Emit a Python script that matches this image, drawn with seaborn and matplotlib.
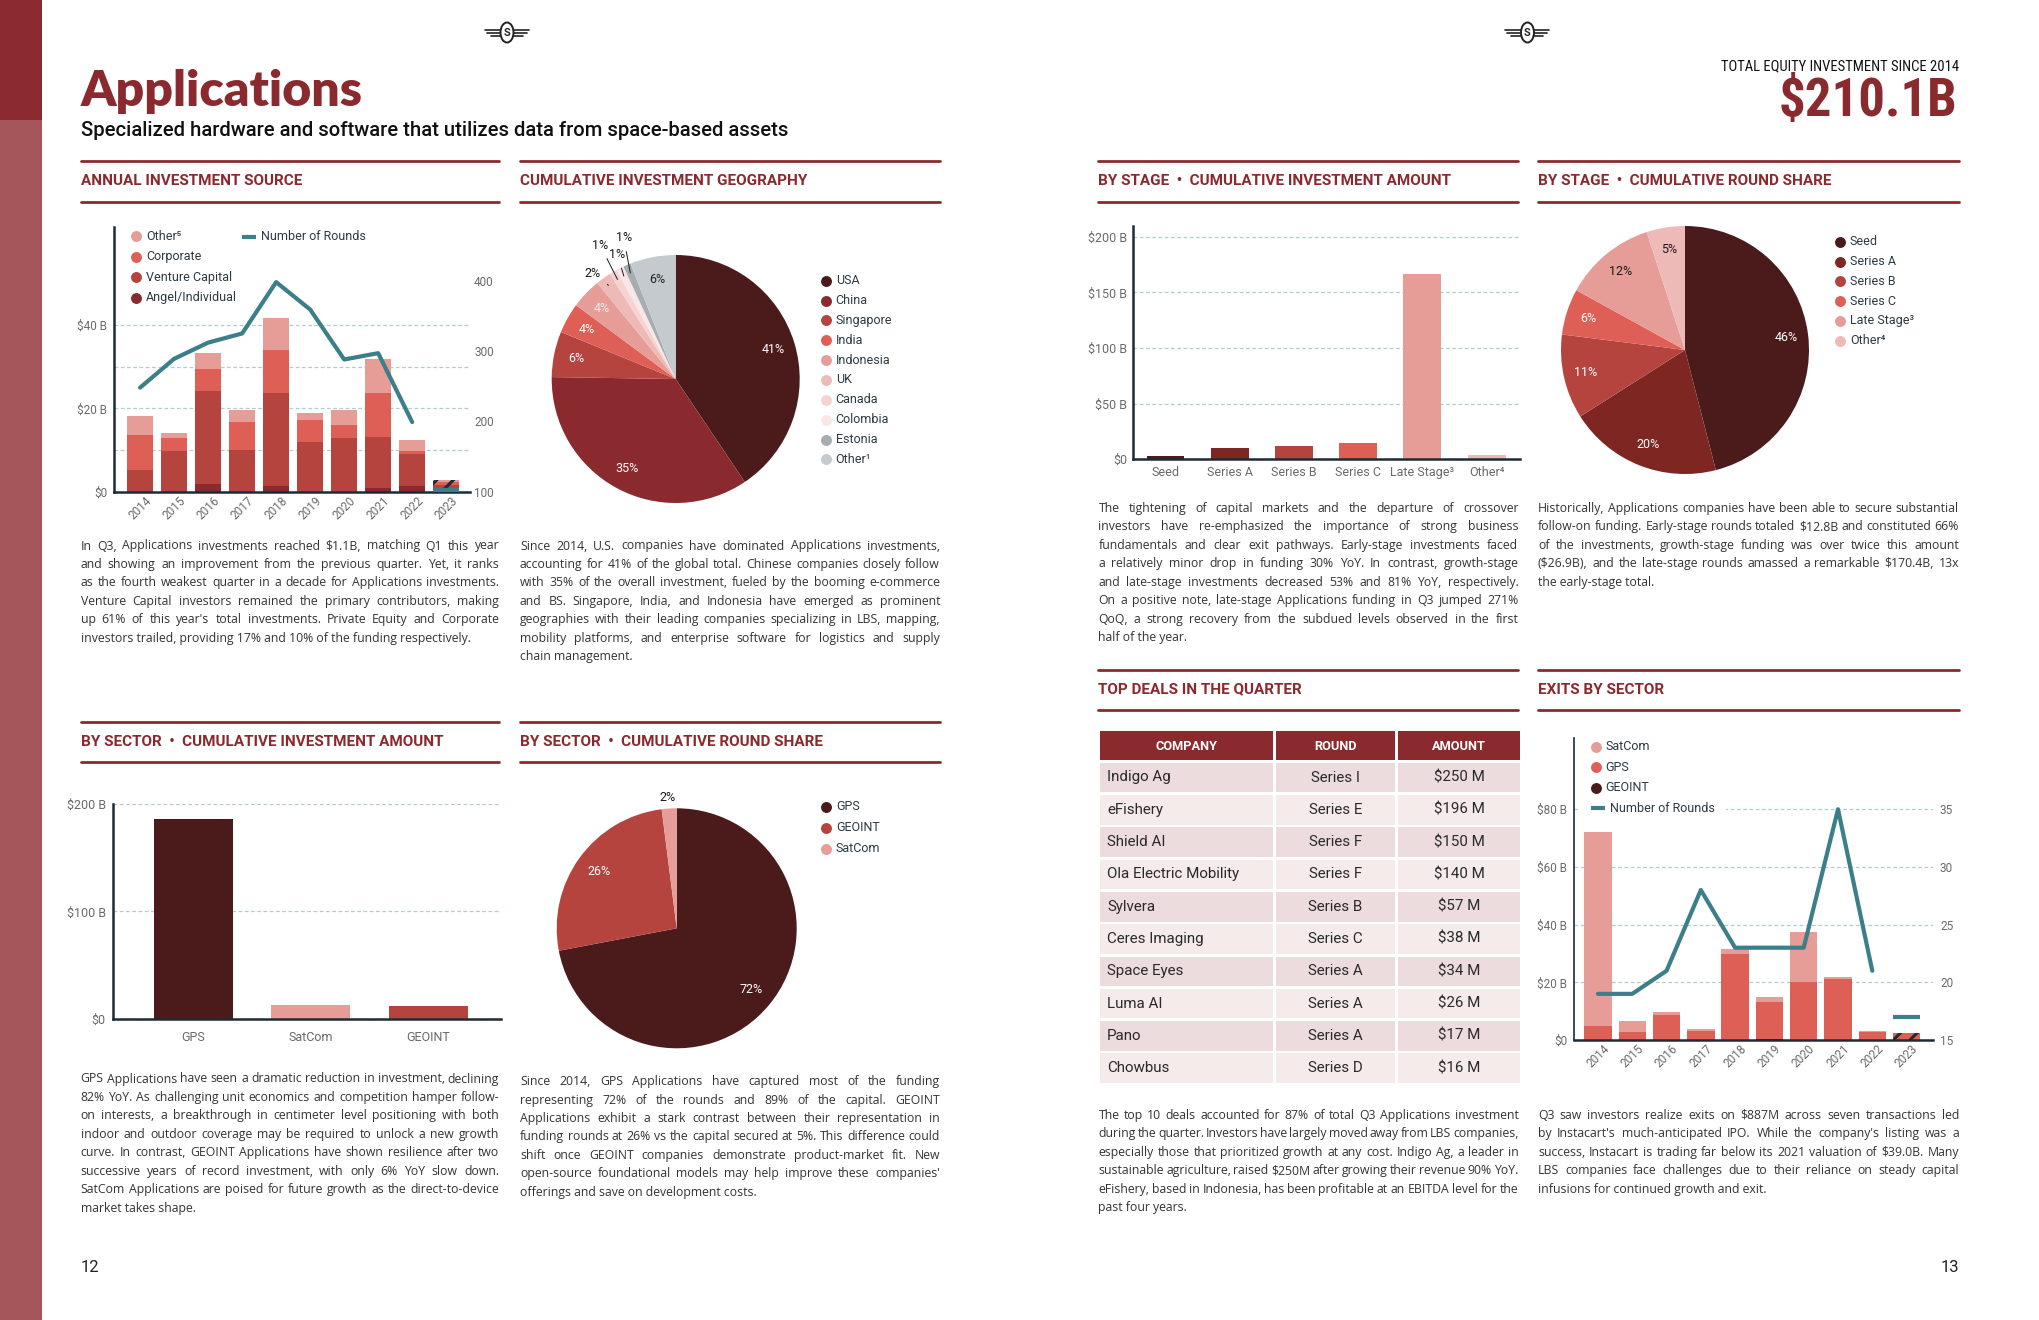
import matplotlib
matplotlib.use("Agg")
import numpy as np
import pandas as pd
import matplotlib.pyplot as plt
import seaborn as sns
from matplotlib import font_manager
from matplotlib.patches import Rectangle, Ellipse
from matplotlib.ticker import FuncFormatter

# ---------------- data ----------------
years = [str(y) for y in range(2014, 2024)]
angel = [0, 0, 1.8, 0, 1.4, 0, 0, 0.9, 1.4, 0.1]
venture = [5.2, 9.8, 22.4, 10.0, 22.3, 11.9, 12.9, 12.2, 7.7, 1.4]
corporate = [8.4, 3.2, 5.2, 6.7, 10.3, 5.3, 3.1, 10.6, 0.7, 0.8]
other_src = [4.6, 1.1, 3.9, 2.9, 7.7, 1.7, 3.6, 8.1, 2.6, 0.5]
rounds = [248, 289, 312, 325, 398, 359, 288, 297, 199]
rounds_2023 = 102

geo_labels = ["USA", "China", "Singapore", "India", "Indonesia", "UK",
              "Canada", "Colombia", "Estonia", "Other\u00b9"]
geo_share = [41, 35, 6, 4, 4, 2, 1, 1, 1, 6]

stage_labels = ["Seed", "Series A", "Series B", "Series C",
                "Late Stage\u00b3", "Other\u2074"]
stage_amount = [3.0, 10.2, 12.0, 14.7, 166.5, 3.9]
stage_share = [46, 20, 11, 6, 12, 5]

sector_labels = ["GPS", "SatCom", "GEOINT"]
sector_amount = [186.0, 12.7, 11.8]
sector_share_labels = ["GPS", "GEOINT", "SatCom"]
sector_share = [72, 26, 2]

deal_company = ["Indigo Ag", "eFishery", "Shield AI", "Ola Electric Mobility",
                "Sylvera", "Ceres Imaging", "Space Eyes", "Luma AI", "Pano",
                "Chowbus"]
deal_round = ["Series I", "Series E", "Series F", "Series F", "Series B",
              "Series C", "Series A", "Series A", "Series A", "Series D"]
deal_amount = ["$250 M", "$196 M", "$150 M", "$140 M", "$57 M", "$38 M",
               "$34 M", "$26 M", "$17 M", "$16 M"]

exit_geoint = [0, 0, 0, 0, 0, 0.5, 0, 0, 0, 0]
exit_gps = [4.9, 2.9, 8.8, 3.2, 29.9, 12.8, 20.2, 21.2, 2.8, 2.4]
exit_satcom = [67.2, 3.8, 1.0, 0.7, 1.7, 1.6, 17.3, 0.6, 0.2, 0]
exit_rounds = [19, 19, 21, 28, 23, 23, 23, 35, 21]
exit_rounds_2023 = 17

para_source = [
    "In Q3, Applications investments reached $1.1B, matching Q1 this year",
    "and showing an improvement from the previous quarter. Yet, it ranks",
    "as the fourth weakest quarter in a decade for Applications investments.",
    "Venture Capital investors remained the primary contributors, making",
    "up 61% of this year's total investments. Private Equity and Corporate",
    "investors trailed, providing 17% and 10% of the funding respectively.",
]
para_geo = [
    "Since 2014, U.S. companies have dominated Applications investments,",
    "accounting for 41% of the global total. Chinese companies closely follow",
    "with 35% of the overall investment, fueled by the booming e-commerce",
    "and BS. Singapore, India, and Indonesia have emerged as prominent",
    "geographies with their leading companies specializing in LBS, mapping,",
    "mobility platforms, and enterprise software for logistics and supply",
    "chain management.",
]
para_stage = [
    "The tightening of capital markets and the departure of crossover",
    "investors have re-emphasized the importance of strong business",
    "fundamentals and clear exit pathways. Early-stage investments faced",
    "a relatively minor drop in funding 30% YoY. In contrast, growth-stage",
    "and late-stage investments decreased 53% and 81% YoY, respectively.",
    "On a positive note, late-stage Applications funding in Q3 jumped 271%",
    "QoQ, a strong recovery from the subdued levels observed in the first",
    "half of the year.",
]
para_share = [
    "Historically, Applications companies have been able to secure substantial",
    "follow-on funding. Early-stage rounds totaled $12.8B and constituted 66%",
    "of the investments, growth-stage funding was over twice this amount",
    "($26.9B), and the late-stage rounds amassed a remarkable $170.4B, 13x",
    "the early-stage total.",
]
para_sector = [
    "GPS Applications have seen a dramatic reduction in investment, declining",
    "82% YoY. As challenging unit economics and competition hamper follow-",
    "on interests, a breakthrough in centimeter level positioning with both",
    "indoor and outdoor coverage may be required to unlock a new growth",
    "curve. In contrast, GEOINT Applications have shown resilience after two",
    "successive years of record investment, with only 6% YoY slow down.",
    "SatCom Applications are poised for future growth as the direct-to-device",
    "market takes shape.",
]
para_sector_share = [
    "Since 2014, GPS Applications have captured most of the funding",
    "representing 72% of the rounds and 89% of the capital. GEOINT",
    "Applications exhibit a stark contrast between their representation in",
    "funding rounds at 26% vs the capital secured at 5%. This difference could",
    "shift once GEOINT companies demonstrate product-market fit. New",
    "open-source foundational models may help improve these companies'",
    "offerings and save on development costs.",
]
para_deals = [
    "The top 10 deals accounted for 87% of total Q3 Applications investment",
    "during the quarter. Investors have largely moved away from LBS companies,",
    "especially those that prioritized growth at any cost.  Indigo Ag, a leader in",
    "sustainable agriculture, raised $250M after growing their revenue 90% YoY.",
    "eFishery, based in Indonesia, has been profitable at an EBITDA level for the",
    "past four years.",
]
para_exits = [
    "Q3 saw investors realize exits on $887M across seven transactions led",
    "by Instacart's much-anticipated IPO. While the company's listing was a",
    "success, Instacart is trading far below its 2021 valuation of $39.0B. Many",
    "LBS companies face challenges due to their reliance on steady capital",
    "infusions for continued growth and exit.",
]

# ---------------- style ----------------
avail = {f.name for f in font_manager.fontManager.ttflist}


def pick(*names):
    for n in names:
        if n in avail:
            return n
    return "DejaVu Sans"


SANS = pick("Roboto", "Lato", "DejaVu Sans")
NARROW = pick("Liberation Sans Narrow", "Roboto Condensed", "Roboto")
BODY = pick("Open Sans", "Lato", "Noto Sans")
TITLE = pick("Lato", "Roboto")

sns.set_theme(style="white")
plt.rcParams["font.family"] = [SANS, "DejaVu Sans"]
plt.rcParams["hatch.linewidth"] = 2.2

RED = "#8b2a2e"
DARK = "#4b1b1c"
SER_A = "#7d2622"
RED2 = "#b5443f"
RED3 = "#dd5f56"
PINK1 = "#e69d97"
PINK2 = "#edbab7"
PINK3 = "#f4d3d1"
PINK4 = "#f9e7e6"
GREY1 = "#a5adb1"
GREY2 = "#c4cacd"
TEAL = "#3c7f89"
NAVY = "#1d2b36"
GRID = "#b3ccd1"
TICK = "#6a6a6a"
LEG = "#2c3a44"
HATCH = "#1d2b36"

W, H = 2040, 1320
fig = plt.figure(figsize=(W / 100, H / 100), dpi=100)
fig.patch.set_facecolor("white")


def box(l, t, r, b):
    return [l / W, 1 - b / H, (r - l) / W, (b - t) / H]


def money(v, pos):
    if v == 0:
        return "$0"
    return f"${v:.0f} B"


def base_style(ax, ysize=8.5):
    for s in ["top", "right"]:
        ax.spines[s].set_visible(False)
    for s in ["left", "bottom"]:
        ax.spines[s].set_color(NAVY)
        ax.spines[s].set_linewidth(1.8)
    ax.set_axisbelow(True)
    ax.grid(axis="y", color=GRID, lw=0.9, ls=(0, (3, 2)))
    ax.grid(axis="x", visible=False)
    ax.tick_params(axis="both", length=0, colors=TICK, labelsize=ysize)
    ax.set_xlabel("")
    ax.set_ylabel("")
    ax.set_facecolor("none")


# overlay in pixel coordinates for page furniture
ov = fig.add_axes([0, 0, 1, 1], zorder=10)
ov.set_xlim(0, W)
ov.set_ylim(H, 0)
ov.axis("off")
renderer = fig.canvas.get_renderer()

# ---------------- 1. annual investment source ----------------
ax = fig.add_axes(box(114.3, 226.7, 470, 491.7))
src = pd.DataFrame({"year": years, "Angel/Individual": angel,
                    "Venture Capital": venture, "Corporate": corporate,
                    "Other": other_src})
layers = ["Angel/Individual", "Venture Capital", "Corporate", "Other"]
layer_cols = [RED, RED2, RED3, PINK1]
cum = src[layers].cumsum(axis=1)
for name, col in reversed(list(zip(layers, layer_cols))):
    n0 = len(ax.patches)
    sns.barplot(x=src["year"], y=cum[name], color=col, width=0.78,
                saturation=1, linewidth=0, ax=ax)
    p = ax.patches[n0:][-1]
    p.set_hatch("//")
    p.set_edgecolor(HATCH)
base_style(ax, 8.5)
ax.set_ylim(0, 63.6)
ax.set_xlim(-0.76, 9.7)
ax.set_yticks([0, 10, 20, 30, 40])
ax.yaxis.set_major_formatter(FuncFormatter(lambda v, p: "" if v in (10, 30) else money(v, p)))
ax.tick_params(axis="y", pad=5)
ax.set_xticks(range(len(years)))
ax.set_xticklabels(years, rotation=45, ha="center")
ax.tick_params(axis="x", pad=2)
ax2 = ax.twinx()
sns.lineplot(x=np.arange(len(rounds)), y=rounds, color=TEAL, lw=3, ax=ax2)
ax2.hlines(rounds_2023, 9 - 0.39, 9 + 0.39, color=TEAL, lw=3)
ax2.set_ylim(100, 476.8)
ax2.set_yticks([100, 200, 300, 400])
ax2.tick_params(axis="y", length=0, pad=3, colors=TICK, labelsize=8.5)
ax2.grid(False)
for s in ax2.spines.values():
    s.set_visible(False)
ax2.set_ylabel("")

# ---------------- helpers: pies / legends ----------------


def pie(cx, cy, r, values, colors, txt_colors, inside, dist=0.82):
    pa = fig.add_axes(box(cx - r, cy - r, cx + r, cy + r))
    wedges, _ = pa.pie(values, colors=colors, startangle=90, counterclock=False,
                       wedgeprops=dict(linewidth=0))
    pa.set_xlim(-1, 1)
    pa.set_ylim(-1, 1)
    pa.set_aspect("equal")
    pa.axis("off")
    for w, v, tc, show in zip(wedges, values, txt_colors, inside):
        if not show:
            continue
        a = np.deg2rad((w.theta1 + w.theta2) / 2)
        pa.text(dist * np.cos(a), dist * np.sin(a), f"{v:.0f}%", ha="center",
                va="center", color=tc, fontsize=9)
    return pa, wedges


def dot(x, y, label, color, size=9):
    ov.scatter([x], [y], s=62, color=color, lw=0, zorder=12)
    ov.text(x + 10, y, label, ha="left", va="center", fontsize=size, color=LEG, zorder=12)


def dash(x, y, label):
    ov.plot([x - 7, x + 7], [y, y], color=TEAL, lw=3, zorder=12, solid_capstyle="butt")
    ov.text(x + 12, y, label, ha="left", va="center", fontsize=9, color=LEG, zorder=12)


for i, (lab, col) in enumerate(zip(["Other\u2075", "Corporate", "Venture Capital",
                                     "Angel/Individual"], [PINK1, RED3, RED2, RED])):
    dot(136, 236 + 20.5 * i, lab, col)
dash(249, 237, "Number of Rounds")

# ---------------- 2. geography pie ----------------
geo_cols = [DARK, RED, RED2, RED3, PINK1, PINK2, PINK3, PINK4, GREY1, GREY2]
geo_txt = ["white", "white", "white", "white", "#f6e9e8", "k", "k", "k", "k", "#222"]
geo_in = [True, True, True, True, True, False, False, False, False, True]
pa, wedges = pie(675.7, 379, 124, geo_share, geo_cols, geo_txt, geo_in)
outer_pos = {5: (-0.67, 0.85), 6: (-0.61, 1.08), 7: (-0.47, 1.005), 8: (-0.42, 1.14)}
for k, pos in outer_pos.items():
    w = wedges[k]
    a = np.deg2rad((w.theta1 + w.theta2) / 2)
    pa.annotate(f"{geo_share[k]:.0f}%", xy=(0.93 * np.cos(a), 0.93 * np.sin(a)),
                xytext=pos, ha="center", va="center", fontsize=9, color="k",
                arrowprops=dict(arrowstyle="-", lw=0.7, color="k", shrinkA=3, shrinkB=0))
for i, (lab, col) in enumerate(zip(geo_labels, geo_cols)):
    dot(825.7, 280.7 + 19.85 * i, lab, col)

# ---------------- 3. stage amount bars ----------------
stage_cols = [DARK, SER_A, RED2, RED3, PINK1, PINK2]
ax = fig.add_axes(box(1132.7, 226, 1520, 459.3))
sns.barplot(x=stage_labels, y=stage_amount, hue=stage_labels, palette=stage_cols,
            width=0.59, saturation=1, linewidth=0, legend=False, ax=ax)
base_style(ax, 9)
ax.set_ylim(0, 209.6)
ax.set_xlim(-0.51, 5.52)
ax.set_yticks([0, 50, 100, 150, 200])
ax.yaxis.set_major_formatter(FuncFormatter(money))
ax.tick_params(axis="y", pad=4)
ax.tick_params(axis="x", pad=5)

# ---------------- 4. stage share pie ----------------
pie(1685, 350, 124, stage_share, stage_cols,
    ["white", "white", "white", "white", "k", "k"], [True] * 6)
for i, (lab, col) in enumerate(zip(stage_labels, stage_cols)):
    dot(1840, 241.7 + 19.8 * i, lab, col)

# ---------------- 5. sector amount bars ----------------
sector_cols = [DARK, PINK1, RED2]
ax = fig.add_axes(box(112.7, 804, 500.7, 1018.7))
sns.barplot(x=sector_labels, y=sector_amount, hue=sector_labels, palette=sector_cols,
            width=0.67, saturation=1, linewidth=0, legend=False, ax=ax)
base_style(ax, 9)
ax.set_ylim(0, 200)
ax.set_xlim(-0.686, 2.615)
ax.set_yticks([0, 100, 200])
ax.yaxis.set_major_formatter(FuncFormatter(money))
ax.tick_params(axis="y", pad=5)
ax.tick_params(axis="x", pad=9)

# ---------------- 6. sector share pie ----------------
ss_cols = [DARK, RED2, PINK1]
pa, wedges = pie(676.7, 928.3, 120, sector_share, ss_cols, ["white", "white", "k"],
                 [True, True, False], dist=0.8)
w = wedges[2]
a = np.deg2rad((w.theta1 + w.theta2) / 2)
pa.text(1.09 * np.cos(a) - 0.01, 1.09 * np.sin(a), f"{sector_share[2]:.0f}%",
        ha="center", va="center", fontsize=9, color="k")
for i, (lab, col) in enumerate(zip(sector_share_labels, ss_cols)):
    dot(826, 806.7 + 21 * i, lab, col)

# ---------------- 7. top deals table ----------------
cols_x = [(1100, 1273), (1276, 1395), (1398, 1520)]
CELL = dict(va="center", fontsize=10.9, color="#2a2a2a", family=[SANS, "DejaVu Sans"])
for (l, r), head in zip(cols_x, ["COMPANY", "ROUND", "AMOUNT"]):
    ov.add_patch(Rectangle((l, 731), r - l, 29, color=RED, lw=0))
    ov.text((l + r) / 2, 746, head, ha="center", va="center", color="white",
            fontsize=9.2, fontweight="bold", family=[SANS, "DejaVu Sans"])
for i, (c, rd, am) in enumerate(zip(deal_company, deal_round, deal_amount)):
    top = 762.7 + 32.3 * i
    shade = "#ecdcdd" if i % 2 == 0 else "#f5ebeb"
    for l, r in cols_x:
        ov.add_patch(Rectangle((l, top), r - l, 29.6, color=shade, lw=0))
    yc = top + 14.8
    ov.text(cols_x[0][0] + 7, yc, c, ha="left", **CELL)
    ov.text(sum(cols_x[1]) / 2, yc, rd, ha="center", **CELL)
    ov.text(sum(cols_x[2]) / 2, yc, am, ha="center", **CELL)

# ---------------- 8. exits by sector ----------------
ax = fig.add_axes(box(1574.3, 738.3, 1933, 1040))
ex = pd.DataFrame({"year": years, "GEOINT": exit_geoint, "GPS": exit_gps,
                   "SatCom": exit_satcom})
ex_layers = ["GEOINT", "GPS", "SatCom"]
ex_cols = [DARK, RED3, PINK1]
ecum = ex[ex_layers].cumsum(axis=1)
for name, col in reversed(list(zip(ex_layers, ex_cols))):
    n0 = len(ax.patches)
    sns.barplot(x=ex["year"], y=ecum[name], color=col, width=0.8,
                saturation=1, linewidth=0, ax=ax)
    p = ax.patches[n0:][-1]
    p.set_hatch("//")
    p.set_edgecolor(HATCH)
base_style(ax, 8.5)
ax.spines["left"].set_linewidth(1.2)
ax.set_ylim(0, 104.6)
ax.set_xlim(-0.69, 9.77)
ax.set_yticks([0, 20, 40, 60, 80])
ax.yaxis.set_major_formatter(FuncFormatter(money))
ax.tick_params(axis="y", pad=5)
ax.set_xticks(range(len(years)))
ax.set_xticklabels(years, rotation=45, ha="center")
ax.tick_params(axis="x", pad=2)
bx = ax.twinx()
sns.lineplot(x=np.arange(len(exit_rounds)), y=exit_rounds, color=TEAL, lw=3, ax=bx)
bx.hlines(exit_rounds_2023, 9 - 0.4, 9 + 0.4, color=TEAL, lw=3)
bx.set_ylim(15, 41.15)
bx.set_yticks([15, 20, 25, 30, 35])
bx.tick_params(axis="y", length=0, pad=5, colors=TICK, labelsize=8.5)
bx.grid(False)
for s in bx.spines.values():
    s.set_visible(False)
bx.set_ylabel("")
ov.add_patch(Rectangle((1578, 738), 148, 80, color="white", lw=0, zorder=11))
for i, (lab, col) in enumerate(zip(["SatCom", "GPS", "GEOINT"], [PINK1, RED3, DARK])):
    dot(1595.7, 746.7 + 20.5 * i, lab, col)
dash(1598, 808.3, "Number of Rounds")

# ---------------- page furniture ----------------
ov.add_patch(Rectangle((0, 0), 41.6, 119.6, color="#8c2b2f", lw=0))
ov.add_patch(Rectangle((0, 119.6), 41.6, H - 119.6, color="#a5565a", lw=0))


def logo(x, y):
    for dy, half in [(-3, 22), (0, 20), (3, 16)]:
        ov.plot([x - half, x + half], [y + dy, y + dy], color="#222", lw=1.2)
    ov.add_patch(Ellipse((x, y), 13, 20, facecolor="white", edgecolor="#222", lw=1.4, zorder=11))
    ov.text(x, y + 0.5, "S", ha="center", va="center", fontsize=8, fontweight="bold",
            color="#222", zorder=12)


logo(507, 32.5)
logo(1527.5, 32.5)

ov.text(80.6, 92, "Applications", ha="left", va="center", fontsize=36,
        fontweight="heavy", color=RED, family=[TITLE, "DejaVu Sans"])
ov.text(80.6, 130, "Specialized hardware and software that utilizes data from space-based assets",
        ha="left", va="center", fontsize=14.6, fontweight="medium", color="#111",
        family=[SANS, "DejaVu Sans"])
ov.text(1959, 66.3, "TOTAL EQUITY INVESTMENT SINCE 2014", ha="right", va="center",
        fontsize=10.5, color="#111", family=[NARROW, "DejaVu Sans"])
ov.text(1957, 101.4, "$210.1B", ha="right", va="center", fontsize=38, fontweight="bold",
        color=RED, family=[NARROW, "DejaVu Sans"])


def section(x0, x1, yt, yb, text):
    ov.plot([x0, x1], [yt, yt], color=RED, lw=2)
    ov.plot([x0, x1], [yb, yb], color=RED, lw=2)
    ov.text(x0, (yt + yb) / 2, text, ha="left", va="center", fontsize=11,
            fontweight="bold", color=RED, family=[SANS, "DejaVu Sans"])


COLS = [(80.6, 499.2), (520, 940), (1098.5, 1518.4), (1538, 1959)]
section(*COLS[0], 161.2, 201.5, "ANNUAL INVESTMENT SOURCE")
section(*COLS[1], 161.2, 201.5, "CUMULATIVE INVESTMENT GEOGRAPHY")
section(*COLS[2], 161.2, 201.5, "BY STAGE  \u2022  CUMULATIVE INVESTMENT AMOUNT")
section(*COLS[3], 161.2, 201.5, "BY STAGE  \u2022  CUMULATIVE ROUND SHARE")
section(*COLS[0], 721.5, 761.8, "BY SECTOR  \u2022  CUMULATIVE INVESTMENT AMOUNT")
section(*COLS[1], 721.5, 761.8, "BY SECTOR  \u2022  CUMULATIVE ROUND SHARE")
section(*COLS[2], 669.5, 709.8, "TOP DEALS IN THE QUARTER")
section(*COLS[3], 669.5, 709.8, "EXITS BY SECTOR")

BODY_KW = dict(ha="left", va="center", fontsize=8.8, color="#333",
               family=[BODY, "DejaVu Sans"])


def paragraph(cols, y0, lines, lh=18.46):
    x0, x1 = cols
    for i, line in enumerate(lines):
        y = y0 + i * lh
        words = line.split()
        if i == len(lines) - 1 or len(words) < 2:
            ov.text(x0, y, line, **BODY_KW)
            continue
        arts = [ov.text(x0, y, w, **BODY_KW) for w in words]
        widths = [a.get_window_extent(renderer).width for a in arts]
        gap = (x1 - x0 - sum(widths)) / (len(words) - 1)
        x = x0
        for a, wd in zip(arts, widths):
            a.set_x(x)
            x += wd + gap


paragraph(COLS[0], 546, para_source)
paragraph(COLS[1], 546, para_geo)
paragraph(COLS[2], 508.3, para_stage)
paragraph(COLS[3], 508.3, para_share)
paragraph(COLS[0], 1079, para_sector)
paragraph(COLS[1], 1081.6, para_sector_share)
paragraph(COLS[2], 1115.4, para_deals)
paragraph(COLS[3], 1115.4, para_exits)

ov.text(80.6, 1267.5, "12", ha="left", va="center", fontsize=12, color="#222")
ov.text(1959, 1267.5, "13", ha="right", va="center", fontsize=12, color="#222")

fig.savefig("out.png", dpi=100, facecolor="white")
